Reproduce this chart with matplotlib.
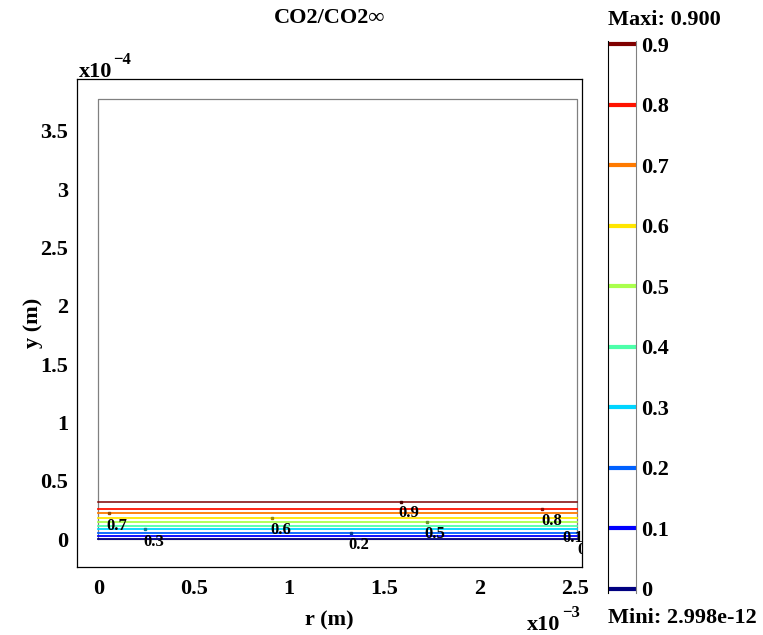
import numpy as np
import matplotlib
matplotlib.use('Agg')
import matplotlib.pyplot as plt

plt.rcParams['font.family'] = ['Liberation Serif', 'DejaVu Serif']
plt.rcParams['font.weight'] = 'bold'

# contour levels of CO2/CO2inf and the height (x1e-4 m) where each line sits
levels = [0.0, 0.1, 0.2, 0.3, 0.4, 0.5, 0.6, 0.7, 0.8, 0.9]
level_y = [0.0, 0.026, 0.051, 0.086, 0.111, 0.146, 0.180, 0.223, 0.257, 0.317]

# domain size (r in 1e-3 m, y in 1e-4 m)
dom_r = 2.51
dom_y = 3.775

# inline contour labels: text, r (1e-3), y (1e-4), anchor r
lab_text = ['0.7', '0.3', '0.6', '0.2', '0.9', '0.5', '0.8', '0.1', '0']
lab_r = [0.098, 0.292, 0.958, 1.367, 1.63, 1.766, 2.38, 2.49, 2.535]
lab_y = [0.111, -0.026, 0.077, -0.051, 0.223, 0.043, 0.154, 0.01, -0.09]
anch_lev = [0.7, 0.3, 0.6, 0.2, 0.9, 0.5, 0.8]
anch_r = [0.057, 0.245, 0.911, 1.326, 1.588, 1.724, 2.328]

xticks = [0, 0.5, 1, 1.5, 2, 2.5]
yticks = [0, 0.5, 1, 1.5, 2, 2.5, 3, 3.5]

W, H = 763, 635
fig = plt.figure(figsize=(W / 100, H / 100), dpi=100)
ax = fig.add_axes([77 / W, 1 - 567 / H, (582 - 77) / W, (567 - 79) / H])
cax = fig.add_axes([608 / W, 1 - 593 / H, 28 / W, (593 - 41) / H])

vmax = max(levels)
cols = [plt.cm.jet(v / vmax) for v in levels]

# domain outline
ax.plot([0, dom_r, dom_r, 0, 0], [0, 0, dom_y, dom_y, 0], color='#808080', lw=0.9, zorder=1)

# contour lines
for lev, yv, c in zip(levels, level_y, cols):
    ax.plot([0, dom_r], [yv, yv], color=c, lw=1.3 if lev < 0.85 else 1.1, zorder=2)

# label anchors
for lev, r in zip(anch_lev, anch_r):
    yv = level_y[levels.index(lev)]
    c = cols[levels.index(lev)]
    ax.plot(r, yv, marker='s', ms=2, color=tuple(0.6 * np.array(c[:3])), zorder=3)

for t, r, yv in zip(lab_text, lab_r, lab_y):
    ax.text(r, yv, t, fontsize=12, fontweight='bold', ha='center', va='center',
            clip_on=True, zorder=4)

ax.set_xlim(-0.112, 2.538)
ax.set_ylim(-0.24, 3.945)
ax.set_xticks(xticks)
ax.set_xticklabels(['%g' % v for v in xticks])
ax.set_yticks(yticks)
ax.set_yticklabels(['%g' % v for v in yticks])
ax.tick_params(axis='x', length=0, pad=9, labelsize=16)
ax.tick_params(axis='y', length=0, pad=6.5, labelsize=16)
for lb in ax.get_xticklabels() + ax.get_yticklabels():
    lb.set_fontweight('bold')
for s in ax.spines.values():
    s.set_linewidth(0.9)
ax.set_xlabel('r (m)', fontsize=16, fontweight='bold', labelpad=8)
ax.set_ylabel('y (m)', fontsize=16, fontweight='bold', labelpad=-2)
ax.set_title('CO2/CO2\u221e', fontsize=16, fontweight='bold', pad=40)

# exponent markers
fig.text(79 / W, 1 - 77 / H, 'x10', fontsize=16, fontweight='bold', ha='left', va='baseline')
fig.text(113 / W, 1 - 64 / H, '\u22124', fontsize=12, fontweight='bold', ha='left', va='baseline')
fig.text(527 / W, 1 - 630 / H, 'x10', fontsize=16, fontweight='bold', ha='left', va='baseline')
fig.text(562 / W, 1 - 617 / H, '\u22123', fontsize=12, fontweight='bold', ha='left', va='baseline')

# legend bar
for lev, c in zip(levels, cols):
    cax.axhline(lev, color=c, lw=3)
cax.set_ylim(-0.007, 0.905)
cax.set_xlim(0, 1)
cax.set_xticks([])
cax.yaxis.tick_right()
cax.set_yticks(levels)
cax.set_yticklabels(['%g' % v for v in levels])
cax.tick_params(axis='y', length=0, pad=4, labelsize=16)
for lb in cax.get_yticklabels():
    lb.set_fontweight('bold')
cax.spines['right'].set_color('#808080')
cax.spines['top'].set_visible(False)
cax.spines['bottom'].set_visible(False)
fig.text(608 / W, 1 - 20 / H, 'Maxi: 0.900', fontsize=16, fontweight='bold', ha='left', va='center')
fig.text(608 / W, 1 - 618 / H, 'Mini: 2.998e-12', fontsize=16, fontweight='bold', ha='left', va='center')

fig.savefig('out.png', dpi=100)
